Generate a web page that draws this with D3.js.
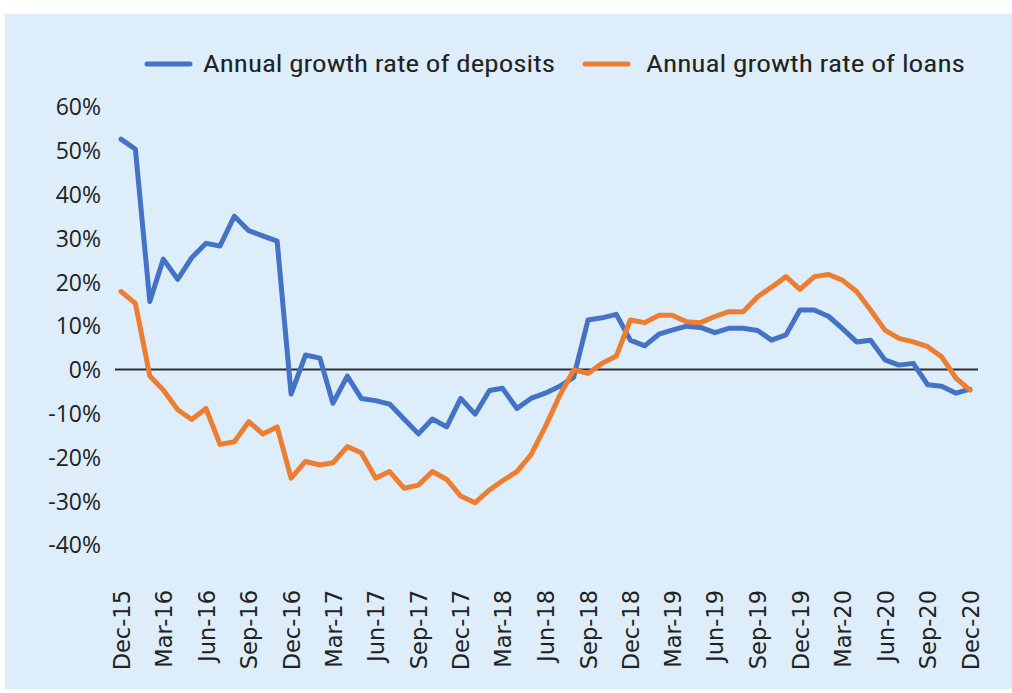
<!DOCTYPE html>
<html>
<head>
<meta charset="utf-8">
<script src="https://cdn.jsdelivr.net/npm/d3@7"></script>
<style>
  html, body { margin: 0; padding: 0; background: #ffffff; }
  svg { display: block; }
  .x-label { font-family: "DejaVu Sans", sans-serif; font-size: 22.5px; fill: #222; }
  .y-label { font-family: "Open Sans", "Noto Sans", sans-serif; font-size: 23px; fill: #222; }
  .legend-label { font-family: "Roboto Condensed", "DejaVu Sans Condensed", sans-serif; font-size: 24px; fill: #222; }
</style>
</head>
<body>
<svg id="chart" width="1012" height="693"></svg>
<script>
// Monthly observations, Dec-2015 through Dec-2020
const months = d3.timeMonths(new Date(2015, 11, 1), new Date(2021, 0, 1));

// Annual growth rate of deposits (%)
const deposits = [
  52.6, 50.3, 15.5, 25.2, 20.6, 25.5, 28.8, 28.2, 35.0, 31.7, 30.5, 29.3,
  -5.6, 3.3, 2.6, -7.7, -1.5, -6.6, -7.1, -7.9, -11.3, -14.7, -11.3, -13.1,
  -6.6, -10.2, -4.8, -4.3, -8.9, -6.6, -5.4, -3.9, -1.8, 11.3, 11.8, 12.6,
  6.7, 5.4, 8.1, 9.0, 9.9, 9.6, 8.4, 9.4, 9.4, 8.9, 6.7, 7.9,
  13.6, 13.6, 12.1, 9.4, 6.3, 6.7, 2.2, 1.0, 1.4, -3.5, -3.8, -5.4, -4.5
];

// Annual growth rate of loans (%)
const loans = [
  17.8, 15.1, -1.5, -4.7, -9.2, -11.4, -8.9, -17.1, -16.5, -11.9, -14.7, -13.1,
  -24.8, -21.0, -21.8, -21.3, -17.6, -19.0, -24.8, -23.3, -27.1, -26.4, -23.3, -25.1,
  -28.9, -30.4, -27.5, -25.4, -23.3, -19.5, -13.1, -6.2, -0.1, -0.9, 1.4, 3.1,
  11.3, 10.7, 12.4, 12.4, 10.9, 10.7, 12.1, 13.2, 13.2, 16.6, 18.8, 21.2,
  18.3, 21.2, 21.7, 20.4, 17.8, 13.6, 9.0, 7.1, 6.3, 5.2, 2.9, -2.0, -4.7
];

const yTicks = [60, 50, 40, 30, 20, 10, 0, -10, -20, -30, -40];
const seriesNames = ["Annual growth rate of deposits", "Annual growth rate of loans"];
const seriesColors = ["#4472C4", "#ED7D31"];

const svg = d3.select("#chart");

// panel background
svg.append("rect")
  .attr("x", 5).attr("y", 14)
  .attr("width", 1007).attr("height", 675)
  .attr("fill", "#DDEEFA");

const x = d3.scaleTime()
  .domain([months[0], months[months.length - 1]])
  .range([121, 970]);

const y = d3.scaleLinear()
  .domain([-40, 60])
  .range([544.7, 106.7]);

// y axis labels (no axis line)
const yAxis = d3.axisLeft(y)
  .tickValues(yTicks)
  .tickSize(0)
  .tickPadding(0)
  .tickFormat(d => d + "%");

const yG = svg.append("g")
  .attr("transform", "translate(101,0)")
  .call(yAxis)
  .attr("font-family", null)
  .attr("font-size", null);
yG.select(".domain").remove();
yG.selectAll("text")
  .attr("class", "y-label")
  .attr("fill", null)
  .attr("dy", "0.36em");

// x axis labels, every third month, rotated
const xTickDates = months.filter((d, i) => i % 3 === 0);
const fmt = d3.timeFormat("%b-%y");
const xAxis = d3.axisBottom(x)
  .tickValues(xTickDates)
  .tickSize(0)
  .tickPadding(0)
  .tickFormat(fmt);

const xG = svg.append("g")
  .attr("transform", "translate(0,590)")
  .call(xAxis)
  .attr("font-family", null)
  .attr("font-size", null);
xG.select(".domain").remove();
xG.selectAll("text")
  .attr("class", "x-label")
  .attr("fill", null)
  .attr("text-anchor", "end")
  .attr("transform", "rotate(-90)")
  .attr("x", 0)
  .attr("y", 0)
  .attr("dx", 0)
  .attr("dy", "0.36em");

// zero line
svg.append("line")
  .attr("x1", 115).attr("x2", 978)
  .attr("y1", y(0)).attr("y2", y(0))
  .attr("stroke", "#2b2f33")
  .attr("stroke-width", 2);

const line = d3.line()
  .x((d, i) => x(months[i]))
  .y(d => y(d));

[deposits, loans].forEach((values, k) => {
  svg.append("path")
    .datum(values)
    .attr("d", line)
    .attr("fill", "none")
    .attr("stroke", seriesColors[k])
    .attr("stroke-width", 5)
    .attr("stroke-linejoin", "round")
    .attr("stroke-linecap", "round");
});

// legend
const legendItems = [
  { sx: 147, tx: 203, width: 352 },
  { sx: 585, tx: 646, width: 319 }
];
legendItems.forEach((item, k) => {
  const g = svg.append("g");
  g.append("line")
    .attr("x1", item.sx).attr("x2", item.sx + 43)
    .attr("y1", 64).attr("y2", 64)
    .attr("stroke", seriesColors[k])
    .attr("stroke-width", 5)
    .attr("stroke-linecap", "round");
  g.append("text")
    .attr("class", "legend-label")
    .attr("x", item.tx).attr("y", 64)
    .attr("dy", "0.35em")
    .attr("textLength", item.width)
    .attr("lengthAdjust", "spacingAndGlyphs")
    .text(seriesNames[k]);
});
</script>
</body>
</html>
